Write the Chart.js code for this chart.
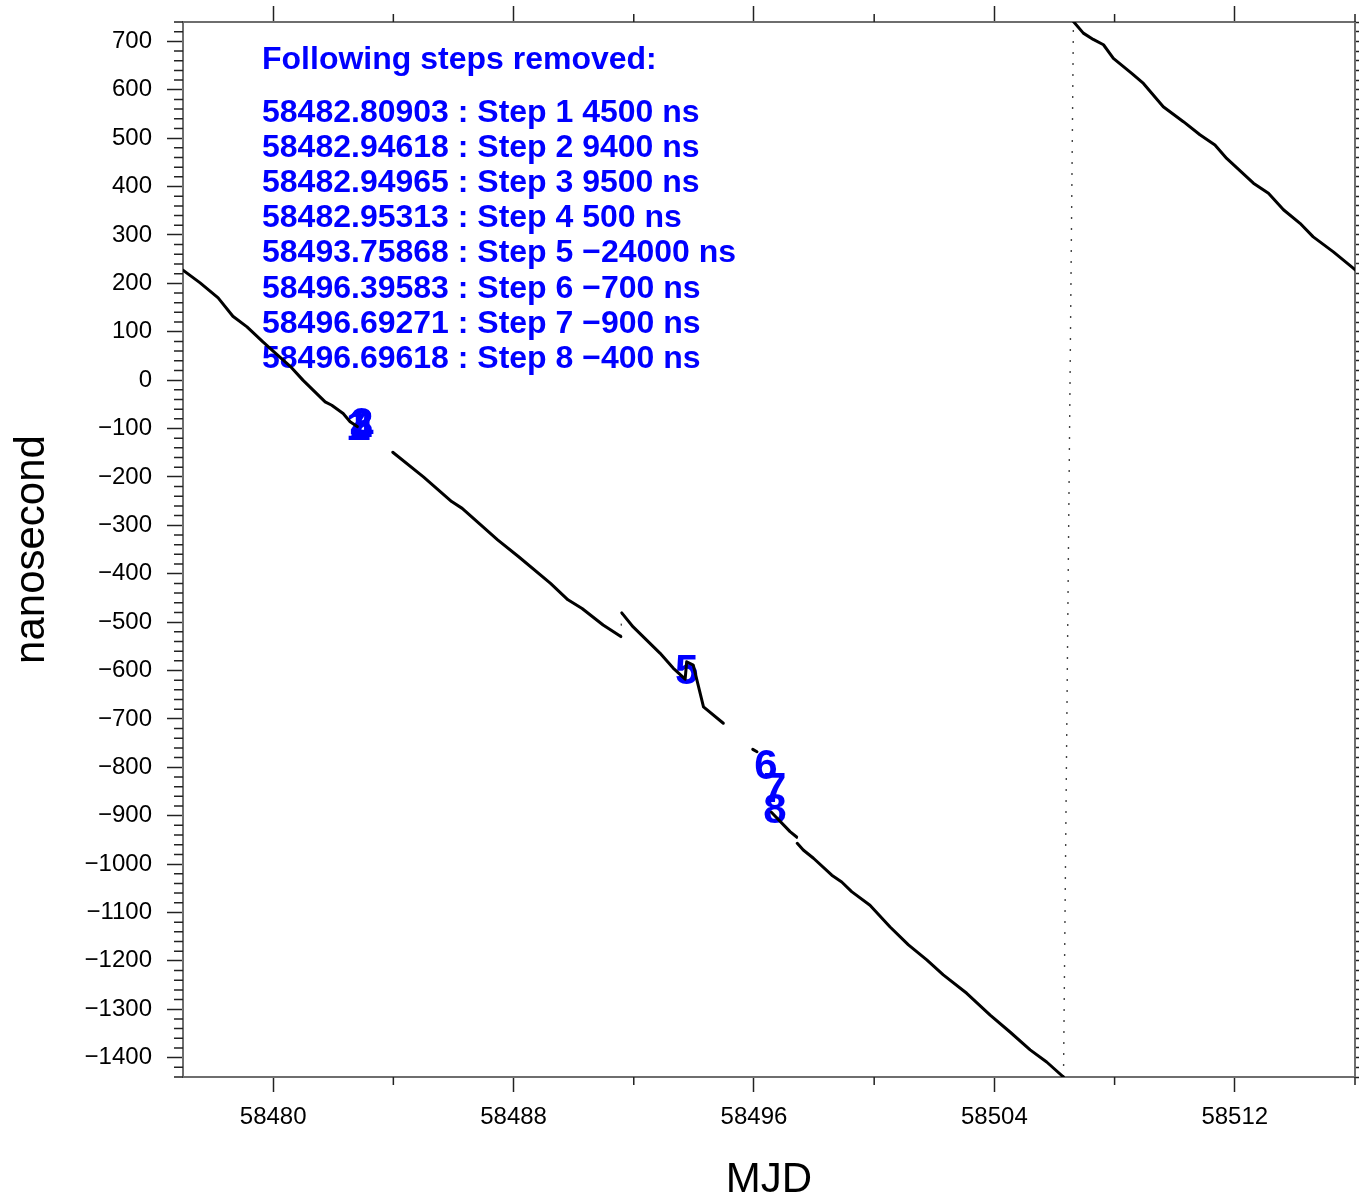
<!DOCTYPE html>
<html>
<head>
<meta charset="utf-8">
<title>Steps removed</title>
<script src="https://cdn.jsdelivr.net/npm/chart.js@4.4.1/dist/chart.umd.min.js"></script>
<style>
    html, body { margin: 0; padding: 0; background: #fff; }
</style>
</head>
<body>
<canvas id="stepsChart" width="1359" height="1199"></canvas>
<script>
// clock offset after step removal, one pair of arrays per continuous piece
const mjdA = [58477.0, 58477.57, 58478.17, 58478.66, 58479.13, 58479.66, 58480.0, 58480.56, 58480.99, 58481.73, 58481.95, 58482.33, 58482.56, 58482.80];
const nsA  = [227, 201, 170, 132, 110, 79, 60, 29, 0, -45, -52, -69, -86, -96];

const mjdB = [58483.98, 58485.00, 58485.94, 58486.29, 58487.47, 58488.17, 58489.23, 58489.81, 58490.28, 58490.98, 58491.57];
const nsB  = [-149, -200, -251, -265, -330, -365, -420, -454, -472, -506, -530];

const mjdC = [58491.60, 58491.98, 58492.87, 58493.31, 58493.71, 58493.76, 58493.98, 58494.32, 58494.98];
const nsC  = [-481, -510, -564, -595, -618, -582, -589, -675, -709];

const mjdD = [58495.96, 58496.10];
const nsD  = [-763, -768];

const mjdE = [58496.58, 58497.20, 58497.42];
const nsE  = [-893, -933, -944];

const mjdF = [58497.44, 58497.64, 58497.98, 58498.59, 58498.92, 58499.25, 58499.86, 58500.53, 58501.14, 58501.75, 58502.30, 58503.08, 58503.86, 58504.52, 58505.19, 58505.74, 58506.30];
const nsF  = [-957, -971, -988, -1023, -1037, -1057, -1085, -1130, -1167, -1198, -1229, -1267, -1312, -1347, -1384, -1409, -1440];

const mjdG = [58506.63, 58506.96, 58507.29, 58507.63, 58507.96, 58508.57, 58508.96, 58509.62, 58510.29, 58510.84, 58511.34, 58511.73, 58512.62, 58513.12, 58513.62, 58514.17, 58514.61, 58515.28, 58515.95, 58516.0];
const nsG  = [741, 717, 704, 693, 665, 634, 613, 565, 534, 507, 486, 458, 407, 386, 352, 324, 296, 265, 231, 228];

// removed steps
const stepMjd = [58482.80903, 58482.94618, 58482.94965, 58482.95313, 58493.75868, 58496.39583, 58496.69271, 58496.69618];
const stepSize = [4500, 9400, 9500, 500, -24000, -700, -900, -400];
const stepLabelNs = [-99, -93, -95, -99, -603, -800, -847, -892];

// axes
const mjdMin = 58477, mjdMax = 58516, mjdMajor = 8, mjdMinor = 4;
const nsMin = -1440, nsMax = 740, nsMajor = 100, nsMinor = 20;

const FONT = '"Liberation Sans", Arial, Helvetica, sans-serif';

function toPoints(xs, ys) {
    return xs.map((v, i) => ({ x: v, y: ys[i] }));
}

function minus(v) {
    return v < 0 ? '\u2212' + Math.abs(v) : String(v);
}

const pieces = [[mjdA, nsA], [mjdB, nsB], [mjdC, nsC], [mjdD, nsD], [mjdE, nsE], [mjdF, nsF], [mjdG, nsG]];

// dotted joins where the series jumps (B->C, E->F and the wrap F->G)
const joins = [[1, 2], [4, 5], [5, 6]].map(([a, b]) => {
    const [xa, ya] = pieces[a];
    const [xb, yb] = pieces[b];
    return [{ x: xa[xa.length - 1], y: ya[ya.length - 1] }, { x: xb[0], y: yb[0] }];
});

const datasets = [];
pieces.forEach(([xs, ys]) => {
    datasets.push({
        data: toPoints(xs, ys),
        borderColor: '#000',
        borderWidth: 3,
        borderCapStyle: 'round',
        borderJoinStyle: 'round',
        pointRadius: 0,
        tension: 0
    });
});
joins.forEach(pts => {
    datasets.push({
        data: pts,
        borderColor: '#444',
        borderWidth: 1.4,
        borderDash: [2, 9],
        pointRadius: 0,
        tension: 0
    });
});

const stepText = {
    id: 'stepText',
    beforeDatasetsDraw(chart) {
        const { ctx, chartArea: area, scales: { x, y } } = chart;
        ctx.save();
        ctx.fillStyle = '#0000ff';
        ctx.textAlign = 'left';
        ctx.textBaseline = 'alphabetic';
        ctx.font = 'bold 32px ' + FONT;
        const left = area.left + 79;
        ctx.fillText('Following steps removed:', left, area.top + 47);
        stepMjd.forEach((mjd, i) => {
            const line = mjd.toFixed(5) + ' : Step ' + (i + 1) + ' ' + minus(stepSize[i]) + ' ns';
            ctx.fillText(line, left, area.top + 100 + i * 35.1);
        });

        ctx.font = 'bold 42px ' + FONT;
        ctx.textAlign = 'center';
        ctx.textBaseline = 'middle';
        stepMjd.forEach((mjd, i) => {
            ctx.fillText(String(i + 1), x.getPixelForValue(mjd), y.getPixelForValue(stepLabelNs[i]));
        });
        ctx.restore();
    }
};

const minorTicks = {
    id: 'minorTicks',
    afterDraw(chart) {
        const { ctx, chartArea: area, scales: { x, y } } = chart;
        ctx.save();
        ctx.strokeStyle = '#222';
        ctx.lineWidth = 1.5;
        ctx.beginPath();
        for (let v = Math.ceil(mjdMin / mjdMinor) * mjdMinor; v <= mjdMax; v += mjdMinor) {
            if (v % mjdMajor === 0) continue;
            const px = x.getPixelForValue(v);
            ctx.moveTo(px, area.bottom);
            ctx.lineTo(px, area.bottom + 8);
            ctx.moveTo(px, area.top);
            ctx.lineTo(px, area.top - 8);
        }
        for (let v = Math.ceil(nsMin / nsMinor) * nsMinor; v <= nsMax; v += nsMinor) {
            if (v % nsMajor === 0) continue;
            const py = y.getPixelForValue(v);
            ctx.moveTo(area.left, py);
            ctx.lineTo(area.left - 9, py);
        }
        ctx.stroke();
        ctx.restore();
    }
};

function axisBase(size) {
    return {
        type: 'linear',
        afterFit: scale => {
            if (scale.isHorizontal()) scale.height = size;
            else scale.width = size;
            // no extra room for half labels at the ends
            scale.paddingTop = 0;
            scale.paddingBottom = 0;
            scale.paddingLeft = 0;
            scale.paddingRight = 0;
        },
        border: { display: true, color: '#6e6e6e', width: 2 },
        grid: { drawOnChartArea: false, drawTicks: true, tickColor: '#222', tickWidth: 1.5 }
    };
}

const xAxis = axisBase(122);
Object.assign(xAxis, {
    position: 'bottom', min: mjdMin, max: mjdMax,
    ticks: { stepSize: mjdMajor, includeBounds: false, padding: 11, color: '#000',
             font: { family: FONT, size: 24 }, callback: v => String(v), maxRotation: 0 },
    title: { display: true, text: 'MJD', color: '#000', padding: 0,
             font: { family: FONT, size: 42, lineHeight: 0.9 } }
});
xAxis.grid.tickLength = 15;

const xTop = axisBase(22);
Object.assign(xTop, {
    position: 'top', min: mjdMin, max: mjdMax,
    ticks: { stepSize: mjdMajor, includeBounds: false, display: false }
});
xTop.grid.tickLength = 16;

const yAxis = axisBase(183);
Object.assign(yAxis, {
    position: 'left', min: nsMin, max: nsMax,
    ticks: { stepSize: nsMajor, includeBounds: false, padding: 15, color: '#000',
             font: { family: FONT, size: 24 }, callback: v => minus(v), autoSkip: false },
    title: { display: true, text: 'nanosecond', color: '#000', padding: { top: 7, bottom: 0 },
             font: { family: FONT, size: 42, lineHeight: 1.2 } }
});
yAxis.grid.tickLength = 16;

const yRight = axisBase(4);
Object.assign(yRight, {
    position: 'right', min: nsMin, max: nsMax,
    ticks: { stepSize: nsMinor, includeBounds: false, display: false }
});
yRight.grid.tickLength = 5;

new Chart(document.getElementById('stepsChart').getContext('2d'), {
    type: 'line',
    data: { datasets },
    options: {
        responsive: false,
        animation: false,
        layout: { padding: 0 },
        plugins: { legend: { display: false }, tooltip: { enabled: false } },
        scales: { x: xAxis, x2: xTop, y: yAxis, y2: yRight }
    },
    plugins: [stepText, minorTicks]
});
</script>
</body>
</html>
